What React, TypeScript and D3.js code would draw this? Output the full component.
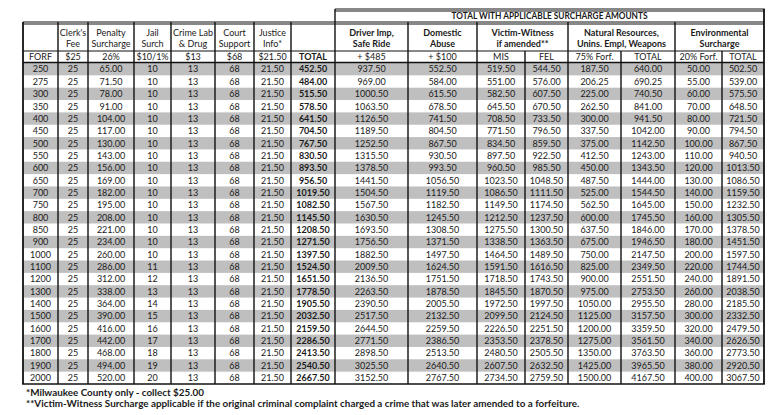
import React from "react";
import * as d3 from "d3";

const forf = [250, 275, 300, 350, 400, 450, 500, 550, 600, 650, 700, 750, 800, 850, 900, 1000, 1100, 1200, 1300, 1400, 1500, 1600, 1700, 1800, 1900, 2000];
const clerkFee = forf.map(() => 25);
const penalty = [65, 71.5, 78, 91, 104, 117, 130, 143, 156, 169, 182, 195, 208, 221, 234, 260, 286, 312, 338, 364, 390, 416, 442, 468, 494, 520];
const jail = [10, 10, 10, 10, 10, 10, 10, 10, 10, 10, 10, 10, 10, 10, 10, 10, 11, 12, 13, 14, 15, 16, 17, 18, 19, 20];
const crimeLab = forf.map(() => 13);
const court = forf.map(() => 68);
const justice = forf.map(() => 21.5);
const total = [452.5, 484, 515.5, 578.5, 641.5, 704.5, 767.5, 830.5, 893.5, 956.5, 1019.5, 1082.5, 1145.5, 1208.5, 1271.5, 1397.5, 1524.5, 1651.5, 1778.5, 1905.5, 2032.5, 2159.5, 2286.5, 2413.5, 2540.5, 2667.5];
const driver = [937.5, 969, 1000.5, 1063.5, 1126.5, 1189.5, 1252.5, 1315.5, 1378.5, 1441.5, 1504.5, 1567.5, 1630.5, 1693.5, 1756.5, 1882.5, 2009.5, 2136.5, 2263.5, 2390.5, 2517.5, 2644.5, 2771.5, 2898.5, 3025.5, 3152.5];
const domestic = [552.5, 584, 615.5, 678.5, 741.5, 804.5, 867.5, 930.5, 993.5, 1056.5, 1119.5, 1182.5, 1245.5, 1308.5, 1371.5, 1497.5, 1624.5, 1751.5, 1878.5, 2005.5, 2132.5, 2259.5, 2386.5, 2513.5, 2640.5, 2767.5];
const vwMis = [519.5, 551, 582.5, 645.5, 708.5, 771.5, 834.5, 897.5, 960.5, 1023.5, 1086.5, 1149.5, 1212.5, 1275.5, 1338.5, 1464.5, 1591.5, 1718.5, 1845.5, 1972.5, 2099.5, 2226.5, 2353.5, 2480.5, 2607.5, 2734.5];
const vwFel = [544.5, 576, 607.5, 670.5, 733.5, 796.5, 859.5, 922.5, 985.5, 1048.5, 1111.5, 1174.5, 1237.5, 1300.5, 1363.5, 1489.5, 1616.5, 1743.5, 1870.5, 1997.5, 2124.5, 2251.5, 2378.5, 2505.5, 2632.5, 2759.5];
const nat75 = [187.5, 206.25, 225, 262.5, 300, 337.5, 375, 412.5, 450, 487.5, 525, 562.5, 600, 637.5, 675, 750, 825, 900, 975, 1050, 1125, 1200, 1275, 1350, 1425, 1500];
const natTotal = [640, 690.25, 740.5, 841, 941.5, 1042, 1142.5, 1243, 1343.5, 1444, 1544.5, 1645, 1745.5, 1846, 1946.5, 2147.5, 2349.5, 2551.5, 2753.5, 2955.5, 3157.5, 3359.5, 3561.5, 3763.5, 3965.5, 4167.5];
const env20 = [50, 55, 60, 70, 80, 90, 100, 110, 120, 130, 140, 150, 160, 170, 180, 200, 220, 240, 260, 280, 300, 320, 340, 360, 380, 400];
const envTotal = [502.5, 539, 575.5, 648.5, 721.5, 794.5, 867.5, 940.5, 1013.5, 1086.5, 1159.5, 1232.5, 1305.5, 1378.5, 1451.5, 1597.5, 1744.5, 1891.5, 2038.5, 2185.5, 2332.5, 2479.5, 2626.5, 2773.5, 2920.5, 3067.5];

const titleText = "TOTAL WITH APPLICABLE SURCHARGE AMOUNTS";
const leftHeaders = [["", ""], ["Clerk's", "Fee"], ["Penalty", "Surcharge"], ["Jail", "Surch"], ["Crime Lab", "& Drug"], ["Court", "Support"], ["Justice", "Info*"], ["", ""]];
const subHeaders = ["FORF", "$25", "26%", "$10/1%", "$13", "$68", "$21.50", "TOTAL", "+ $485", "+ $100", "MIS", "FEL", "75% Forf.", "TOTAL", "20% Forf.", "TOTAL"];
const groupHeaders = [["Driver Imp,", "Safe Ride"], ["Domestic", "Abuse"], ["Victim-Witness", "if amended**"], ["Natural Resources,", "Unins. Empl, Weapons"], ["Environmental", "Surcharge"]];
const footnotes = ["*Milwaukee County only - collect $25.00", "**Victim-Witness Surcharge applicable if the original criminal complaint charged a crime that was later amended to a forfeiture."];

const int = (v: number) => String(v);
const dec = (v: number) => v.toFixed(2);
const columns: { values: number[]; fmt: (v: number) => string; bold?: boolean }[] = [
  { values: forf, fmt: int },
  { values: clerkFee, fmt: int },
  { values: penalty, fmt: dec },
  { values: jail, fmt: int },
  { values: crimeLab, fmt: int },
  { values: court, fmt: int },
  { values: justice, fmt: dec },
  { values: total, fmt: dec, bold: true },
  { values: driver, fmt: dec },
  { values: domestic, fmt: dec },
  { values: vwMis, fmt: dec },
  { values: vwFel, fmt: dec },
  { values: nat75, fmt: dec },
  { values: natTotal, fmt: dec },
  { values: env20, fmt: dec },
  { values: envTotal, fmt: dec },
];

const edges = [23, 58, 88, 134, 171, 215, 254, 291, 335, 408, 477, 525, 568, 621, 675, 722, 764];
const groups = [[8, 9], [9, 10], [10, 12], [12, 14], [14, 16]];

const FONT = "Lato, 'Open Sans', sans-serif";
const TXT = "#1a1a1a";
const GRAY = "#bfbfbf";

export default function App() {
  const W = 784, H = 415;
  const yTitleTop = 9, yHead1 = 23, yHead2 = 51, yData = 63, yBottom = 384;
  const row = d3.scaleBand<number>().domain(d3.range(forf.length)).range([yData, yBottom]).padding(0);
  const L = edges[0], R = edges[edges.length - 1];
  const fs = 9;
  const cx = (a: number, b: number) => (edges[a] + edges[b]) / 2;
  const headerInner = new Set([11, 13, 15]);

  return (
    <svg width={W} height={H} style={{ position: "absolute", left: 0, top: 0, background: "#fff" }} fontFamily={FONT}>
      <rect x={0} y={0} width={W} height={H} fill="#fff" />
      {forf.map((_, i) =>
        i % 2 === 0 ? <rect key={"s" + i} x={L} y={row(i)!} width={R - L} height={row.bandwidth()} fill={GRAY} /> : null
      )}
      {columns.map((c, ci) =>
        c.values.map((v, ri) => (
          <text key={`d${ci}-${ri}`} x={cx(ci, ci + 1)} y={row(ri)! + row.bandwidth() / 2 + 3.3} textAnchor="middle"
            fontSize={fs} fill={TXT} fontWeight={c.bold ? 700 : 400}>{c.fmt(v)}</text>
        ))
      )}
      <text x={(edges[8] + R) / 2} y={19.3} textAnchor="middle" fontSize={8.6} fontWeight={700} fill={TXT}
        textLength={196} lengthAdjust="spacingAndGlyphs">{titleText}</text>
      {leftHeaders.map((h, i) => (
        <g key={"lh" + i}>
          <text x={cx(i, i + 1)} y={35.5} textAnchor="middle" fontSize={fs} fill={TXT}>{h[0]}</text>
          <text x={cx(i, i + 1)} y={47} textAnchor="middle" fontSize={fs} fill={TXT}>{h[1]}</text>
        </g>
      ))}
      {groups.map((g, i) => (
        <g key={"gh" + i}>
          <text x={cx(g[0], g[1])} y={35.5} textAnchor="middle" fontSize={fs} fontWeight={700} fill={TXT}>{groupHeaders[i][0]}</text>
          <text x={cx(g[0], g[1])} y={47} textAnchor="middle" fontSize={fs} fontWeight={700} fill={TXT}>{groupHeaders[i][1]}</text>
        </g>
      ))}
      {subHeaders.map((s, i) => (
        <text key={"sh" + i} x={cx(i, i + 1)} y={60} textAnchor="middle" fontSize={fs} fill={TXT} fontWeight={i === 7 ? 700 : 400}>{s}</text>
      ))}
      <line x1={edges[8]} x2={R + 0.75} y1={yTitleTop} y2={yTitleTop} stroke="#111" strokeWidth={1} />
      <line x1={edges[8]} x2={R + 0.75} y1={yTitleTop + 2} y2={yTitleTop + 2} stroke="#111" strokeWidth={1} />
      <line x1={L} x2={R} y1={yHead1 - 1} y2={yHead1 - 1} stroke="#111" strokeWidth={1} />
      <line x1={L} x2={R} y1={yHead1 + 1} y2={yHead1 + 1} stroke="#111" strokeWidth={1} />
      <line x1={L} x2={R} y1={yHead2} y2={yHead2} stroke="#111" strokeWidth={1} />
      <line x1={L} x2={R} y1={yData - 0.5} y2={yData - 0.5} stroke="#111" strokeWidth={1.5} />
      <line x1={L - 0.9} x2={R + 0.9} y1={yBottom} y2={yBottom} stroke="#111" strokeWidth={1.6} />
      {edges.map((x, i) => {
        let top = yHead1 - 1;
        if (i === 8 || i === edges.length - 1) top = yTitleTop;
        else if (headerInner.has(i)) top = yHead2;
        return <line key={"v" + i} x1={x} x2={x} y1={top} y2={yBottom} stroke="#111" strokeWidth={i === 0 || i === edges.length - 1 ? 1.8 : 1.4} />;
      })}
      {footnotes.map((f, i) => (
        <text key={"f" + i} x={26} y={395.5 + i * 11} fontSize={9.85} fontWeight={700} fill={TXT}>{f}</text>
      ))}
    </svg>
  );
}
